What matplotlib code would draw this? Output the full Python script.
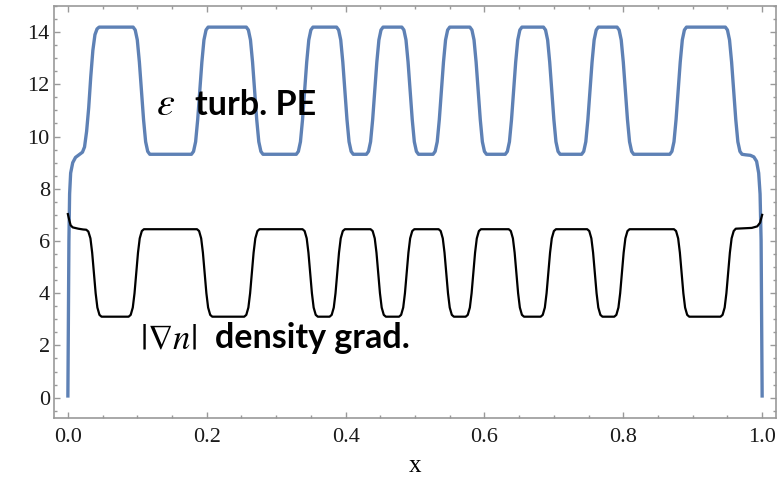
import matplotlib
matplotlib.use("Agg")
import matplotlib.pyplot as plt
from matplotlib.ticker import MultipleLocator

plt.rcParams["mathtext.fontset"] = "stix"

# turbulent potential enstrophy (blue), one transition per line
epsX = [0.0, 0.0008, 0.0015, 0.0025, 0.004, 0.007, 0.011, 0.016, 0.021,
        0.024, 0.027, 0.030, 0.033, 0.036, 0.039, 0.042, 0.045,
        0.094, 0.097, 0.100, 0.103, 0.106, 0.109, 0.112, 0.115, 0.118,
        0.178, 0.181, 0.184, 0.187, 0.190, 0.193, 0.196, 0.199, 0.202,
        0.257, 0.260, 0.263, 0.266, 0.269, 0.272, 0.275, 0.278, 0.281,
        0.329, 0.332, 0.335, 0.338, 0.341, 0.344, 0.347, 0.350, 0.353,
        0.387, 0.390, 0.393, 0.396, 0.399, 0.402, 0.405, 0.408, 0.411,
        0.430, 0.433, 0.436, 0.439, 0.442, 0.445, 0.448, 0.451, 0.454,
        0.481, 0.484, 0.487, 0.490, 0.493, 0.496, 0.499, 0.502, 0.505,
        0.526, 0.529, 0.532, 0.535, 0.538, 0.541, 0.544, 0.547, 0.550,
        0.579, 0.582, 0.585, 0.588, 0.591, 0.594, 0.597, 0.600, 0.603,
        0.630, 0.633, 0.636, 0.639, 0.642, 0.645, 0.648, 0.651, 0.654,
        0.685, 0.688, 0.691, 0.694, 0.697, 0.700, 0.703, 0.706, 0.709,
        0.740, 0.743, 0.746, 0.749, 0.752, 0.755, 0.758, 0.761, 0.764,
        0.791, 0.794, 0.797, 0.800, 0.803, 0.806, 0.809, 0.812, 0.815,
        0.867, 0.870, 0.873, 0.876, 0.879, 0.882, 0.885, 0.888, 0.891,
        0.947, 0.950, 0.953, 0.956, 0.959, 0.962, 0.965, 0.968, 0.971,
        0.976, 0.983, 0.988, 0.992, 0.995, 0.997, 0.9985, 0.9993, 1.0]
epsY = [0.0, 3.0, 6.0, 7.8, 8.6, 9.0, 9.2, 9.3, 9.4,
        9.6, 10.2, 11.1, 12.3, 13.3, 13.9, 14.12, 14.19,
        14.19, 14.08, 13.7, 12.85, 11.75, 10.65, 9.8, 9.43, 9.32,
        9.32, 9.43, 9.8, 10.65, 11.75, 12.85, 13.7, 14.08, 14.19,
        14.19, 14.08, 13.7, 12.85, 11.75, 10.65, 9.8, 9.43, 9.32,
        9.32, 9.43, 9.8, 10.65, 11.75, 12.85, 13.7, 14.08, 14.19,
        14.19, 14.08, 13.7, 12.85, 11.75, 10.65, 9.8, 9.43, 9.32,
        9.32, 9.43, 9.8, 10.65, 11.75, 12.85, 13.7, 14.08, 14.19,
        14.19, 14.08, 13.7, 12.85, 11.75, 10.65, 9.8, 9.43, 9.32,
        9.32, 9.43, 9.8, 10.65, 11.75, 12.85, 13.7, 14.08, 14.19,
        14.19, 14.08, 13.7, 12.85, 11.75, 10.65, 9.8, 9.43, 9.32,
        9.32, 9.43, 9.8, 10.65, 11.75, 12.85, 13.7, 14.08, 14.19,
        14.19, 14.08, 13.7, 12.85, 11.75, 10.65, 9.8, 9.43, 9.32,
        9.32, 9.43, 9.8, 10.65, 11.75, 12.85, 13.7, 14.08, 14.19,
        14.19, 14.08, 13.7, 12.85, 11.75, 10.65, 9.8, 9.43, 9.32,
        9.32, 9.43, 9.8, 10.65, 11.75, 12.85, 13.7, 14.08, 14.19,
        14.19, 14.08, 13.7, 12.85, 11.75, 10.65, 9.8, 9.43, 9.32,
        9.3, 9.28, 9.22, 9.05, 8.6, 7.8, 6.0, 3.0, 0.0]

# density gradient (black)
gradX = [0.0, 0.002, 0.004, 0.007, 0.015, 0.022,
         0.0265, 0.0295, 0.0325, 0.035, 0.0375, 0.040, 0.0425, 0.0455, 0.0485,
         0.0875, 0.0905, 0.0935, 0.096, 0.0985, 0.101, 0.1035, 0.1065, 0.1095,
         0.186, 0.189, 0.192, 0.1945, 0.197, 0.1995, 0.202, 0.205, 0.208,
         0.254, 0.257, 0.260, 0.2625, 0.265, 0.2675, 0.270, 0.273, 0.276,
         0.338, 0.341, 0.344, 0.3465, 0.349, 0.3515, 0.354, 0.357, 0.360,
         0.377, 0.380, 0.383, 0.3855, 0.388, 0.3905, 0.393, 0.396, 0.399,
         0.436, 0.439, 0.442, 0.4445, 0.447, 0.4495, 0.452, 0.455, 0.458,
         0.477, 0.480, 0.483, 0.4855, 0.488, 0.4905, 0.493, 0.496, 0.499,
         0.534, 0.537, 0.540, 0.5425, 0.545, 0.5475, 0.550, 0.553, 0.556,
         0.573, 0.576, 0.579, 0.5815, 0.584, 0.5865, 0.589, 0.592, 0.595,
         0.635, 0.638, 0.641, 0.6435, 0.646, 0.6485, 0.651, 0.654, 0.657,
         0.681, 0.684, 0.687, 0.6895, 0.692, 0.6945, 0.697, 0.700, 0.703,
         0.748, 0.751, 0.754, 0.7565, 0.759, 0.7615, 0.764, 0.767, 0.770,
         0.787, 0.790, 0.793, 0.7955, 0.798, 0.8005, 0.803, 0.806, 0.809,
         0.873, 0.876, 0.879, 0.8815, 0.884, 0.8865, 0.889, 0.892, 0.895,
         0.940, 0.943, 0.946, 0.9485, 0.951, 0.9535, 0.956, 0.959, 0.962,
         0.985, 0.993, 0.997, 1.0]
gradY = [7.03, 6.8, 6.6, 6.52, 6.47, 6.44,
         6.43, 6.36, 6.1, 5.55, 4.78, 4.0, 3.45, 3.17, 3.10,
         3.10, 3.17, 3.45, 4.0, 4.78, 5.55, 6.1, 6.38, 6.45,
         6.45, 6.38, 6.1, 5.55, 4.78, 4.0, 3.45, 3.17, 3.10,
         3.10, 3.17, 3.45, 4.0, 4.78, 5.55, 6.1, 6.38, 6.45,
         6.45, 6.38, 6.1, 5.55, 4.78, 4.0, 3.45, 3.17, 3.10,
         3.10, 3.17, 3.45, 4.0, 4.78, 5.55, 6.1, 6.38, 6.45,
         6.45, 6.38, 6.1, 5.55, 4.78, 4.0, 3.45, 3.17, 3.10,
         3.10, 3.17, 3.45, 4.0, 4.78, 5.55, 6.1, 6.38, 6.45,
         6.45, 6.38, 6.1, 5.55, 4.78, 4.0, 3.45, 3.17, 3.10,
         3.10, 3.17, 3.45, 4.0, 4.78, 5.55, 6.1, 6.38, 6.45,
         6.45, 6.38, 6.1, 5.55, 4.78, 4.0, 3.45, 3.17, 3.10,
         3.10, 3.17, 3.45, 4.0, 4.78, 5.55, 6.1, 6.38, 6.45,
         6.45, 6.38, 6.1, 5.55, 4.78, 4.0, 3.45, 3.17, 3.10,
         3.10, 3.17, 3.45, 4.0, 4.78, 5.55, 6.1, 6.38, 6.45,
         6.45, 6.38, 6.1, 5.55, 4.78, 4.0, 3.45, 3.17, 3.10,
         3.10, 3.17, 3.45, 4.0, 4.78, 5.55, 6.1, 6.38, 6.47,
         6.50, 6.56, 6.7, 7.0]

xTicks = [0.0, 0.2, 0.4, 0.6, 0.8, 1.0]
xTickLabels = ["0.0", "0.2", "0.4", "0.6", "0.8", "1.0"]
yTicks = [0, 2, 4, 6, 8, 10, 12, 14]

fig = plt.figure(figsize=(7.79, 4.82), dpi=100)
ax = fig.add_axes([0.0693, 0.1328, 0.9269, 0.8548])

ax.plot(epsX, epsY, color="#5E81B5", lw=2.4, solid_capstyle="butt", solid_joinstyle="round")
ax.plot(gradX, gradY, color="black", lw=1.6, solid_joinstyle="round")

ax.set_xlim(-0.02, 1.02)
ax.set_ylim(-0.78, 15.0)
ax.set_xticks(xTicks)
ax.set_xticklabels(xTickLabels)
ax.set_yticks(yTicks)
ax.xaxis.set_minor_locator(MultipleLocator(0.05))
ax.yaxis.set_minor_locator(MultipleLocator(0.5))

for s in ax.spines.values():
    s.set_color("#999999")
    s.set_linewidth(1.2)
ax.tick_params(which="both", direction="in", top=True, right=True, color="#999999", width=1.0)
ax.tick_params(which="major", length=4.5)
ax.tick_params(which="minor", length=2.5)
ax.tick_params(axis="x", which="major", pad=7)
ax.tick_params(axis="y", which="major", pad=3)
for lab in ax.get_xticklabels() + ax.get_yticklabels():
    lab.set_fontfamily("Liberation Serif")
    lab.set_fontsize(16)
    lab.set_color("#1a1a1a")

ax.set_xlabel("x", fontfamily="Liberation Serif", fontsize=18, labelpad=6)

# annotations
ax.text(0.127, 10.82, r"$\varepsilon$", fontsize=29, va="baseline")
ax.text(0.1826, 10.82, "turb. PE", fontfamily="Lato", fontweight="bold", fontsize=24.5, va="baseline")
ax.text(0.104, 1.90, r"$\left|\nabla n\right|$", fontsize=25, va="baseline")
ax.text(0.2114, 1.90, "density grad.", fontfamily="Lato", fontweight="bold", fontsize=24.5, va="baseline")

fig.savefig("out.png", dpi=100)
